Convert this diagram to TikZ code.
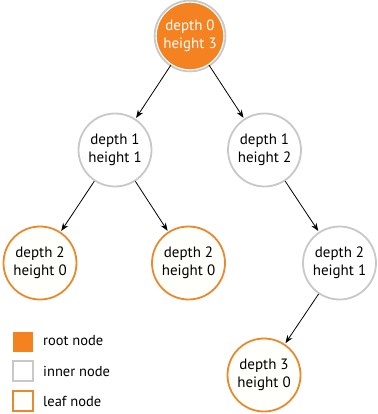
\documentclass[tikz,border=0pt]{standalone}
\usepackage{fontspec}
\setmainfont{PT Sans}
\usetikzlibrary{arrows.meta}
\definecolor{rootor}{HTML}{F58220}
\definecolor{gborder}{HTML}{C8C8C8}
\definecolor{leafor}{HTML}{E8892E}
\definecolor{leaffill}{HTML}{FFFFFC}
\begin{document}
\begin{tikzpicture}[x=1pt,y=-1pt,
  txt/.style={font=\fontsize{15}{18}\selectfont, align=center},
  basenode/.style={circle, minimum size=73pt, inner sep=0pt, line width=1.8pt, txt},
  innernode/.style={basenode, draw=gborder, fill=white},
  leafnode/.style={basenode, draw=leafor, fill=leaffill},
  rootnode/.style={basenode, draw=white, fill=rootor, text=white, line width=1.4pt, minimum size=68pt},
  edge/.style={-{Stealth[length=8pt,width=6pt]}, line width=0.8pt, shorten >=1pt},
  legbox/.style={minimum size=20pt, inner sep=0pt, line width=1.8pt},
  legtxt/.style={anchor=west, font=\fontsize{14.5}{15}\selectfont, inner sep=0pt}
]
\useasboundingbox (0,0) rectangle (377,414);
\node[rootnode] (r) at (190,36) {depth 0\\height 3};
\draw[gborder, line width=1.8pt] (r.center) circle[radius=35.4pt];
\node[innernode] (a) at (115,150) {depth 1\\height 1};
\node[innernode] (b) at (264.5,150) {depth 1\\height 2};
\node[leafnode] (c) at (40,263) {depth 2\\height 0};
\node[leafnode] (d) at (188.5,263) {depth 2\\height 0};
\node[innernode] (e) at (339.5,263) {depth 2\\height 1};
\node[leafnode] (f) at (264,375) {depth 3\\height 0};
\draw[edge] (r) -- (a);
\draw[edge] (r) -- (b);
\draw[edge] (a) -- (c);
\draw[edge] (a) -- (d);
\draw[edge] (b) -- (e);
\draw[edge] (e) -- (f);
\node[legbox, fill=rootor] (l1) at (23,341.5) {};
\node[legbox, draw=gborder, fill=white] (l2) at (23,371) {};
\node[legbox, draw=leafor, fill=leaffill] (l3) at (23,401) {};
\node[legtxt] (t1) at (43,341) {root node};
\node[legtxt] (t2) at (43,371) {inner node};
\node[legtxt] (t3) at (43,401) {leaf node};
\end{tikzpicture}
\end{document}
